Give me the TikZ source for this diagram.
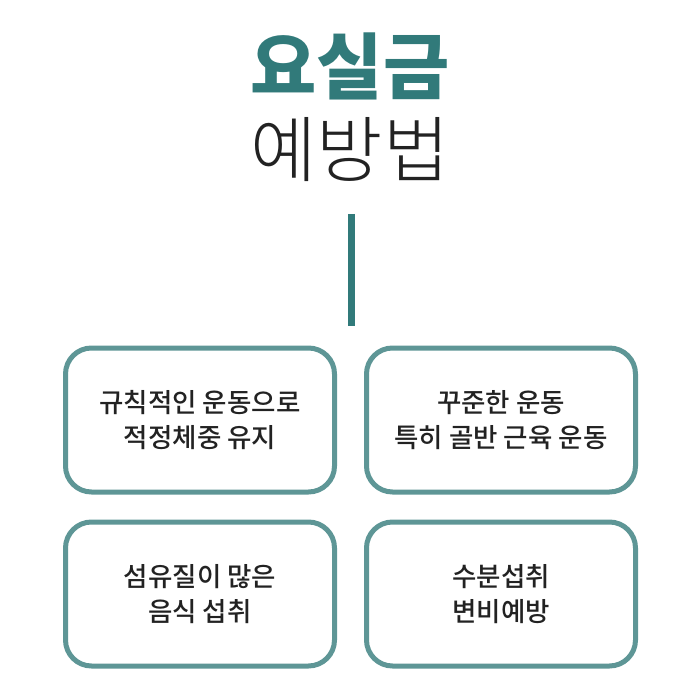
\documentclass[tikz,border=0pt]{standalone}
\usepackage{fontspec}
\newfontfamily\titlefont{Noto Sans CJK KR Black}
\newfontfamily\subfont{Noto Sans CJK KR Light}
\newfontfamily\boxfont{Noto Sans CJK KR Medium}
\definecolor{tealdark}{HTML}{317A7A}
\definecolor{tealbox}{HTML}{5E9696}
\definecolor{textgray}{HTML}{222222}
\begin{document}
\begin{tikzpicture}[x=1pt,y=-1pt,
    tipbox/.style={draw=tealbox,line width=5pt,rounded corners=26pt,fill=white,
        minimum width=269pt,minimum height=144pt,align=center,
        font=\boxfont\fontsize{26.5}{35}\selectfont,text=textgray}]
        \useasboundingbox (0,0) rectangle (700,700);
        \node [font=\titlefont\fontsize{72}{72}\selectfont,text=tealdark] (title) at (350,66) {요실금};
        \node [font=\subfont\fontsize{72}{72}\selectfont,text=textgray] (sub) at (350,150) {예방법};
        \coordinate (top) at (351.5,214);
        \coordinate (bot) at (351.5,326);
        \draw [tealdark,line width=7pt] (top) -- (bot);
        \node [tipbox] (tip1) at (200,420) {규칙적인 운동으로\\적정체중 유지};
        \node [tipbox] (tip2) at (501,420) {꾸준한 운동\\특히 골반 근육 운동};
        \node [tipbox] (tip3) at (200,594) {섬유질이 많은\\음식 섭취};
        \node [tipbox] (tip4) at (501,594) {수분섭취\\변비예방};
    \end{tikzpicture}
\end{document}
